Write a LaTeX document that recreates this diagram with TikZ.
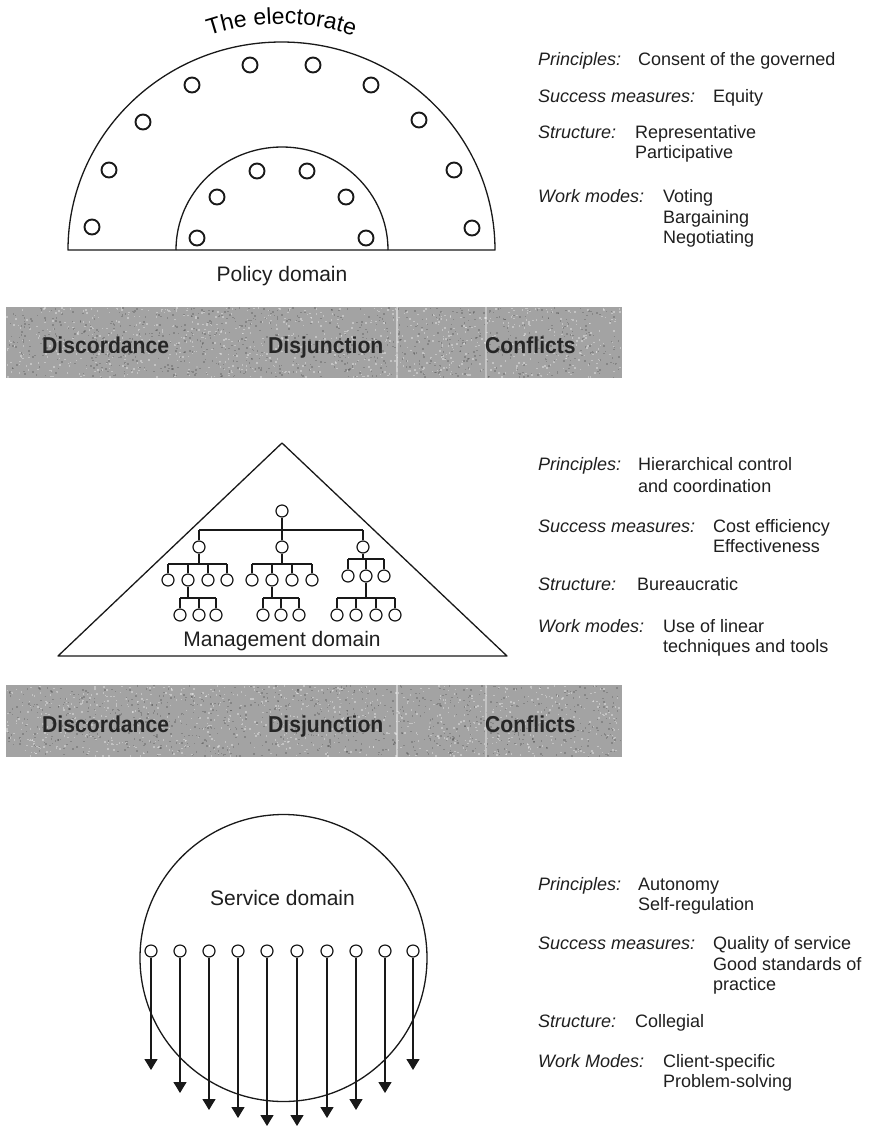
\documentclass[tikz,border=0pt]{standalone}
\usepackage{fontspec}
\setmainfont{Liberation Sans}
\usetikzlibrary{arrows.meta,decorations.text,calc}

\newcommand\elfont{\fontsize{23}{27}\selectfont}

\tikzset{
  outline/.style={draw=black!90, line width=1.3pt, line join=round},
  seat/.style={circle, draw=black!90, line width=1.9pt, minimum size=15pt, inner sep=0pt},
  post/.style={circle, draw=black!90, line width=1.2pt, minimum size=12pt, inner sep=0pt},
  link/.style={draw=black!90, line width=1.3pt},
  drop/.style={draw=black!90, line width=1.3pt, -{Triangle[width=13pt,length=11pt]}},
  domainlabel/.style={anchor=base, inner sep=0pt, text=black!88, font=\fontsize{21}{25}\selectfont},
  keylabel/.style={anchor=base west, inner sep=0pt, text=black!88, font=\fontsize{18}{21}\selectfont\itshape},
  vallabel/.style={anchor=base west, inner sep=0pt, text=black!88, font=\fontsize{18}{21}\selectfont},
  barlabel/.style={anchor=base west, inner sep=0pt, text=black!85, xscale=0.92,
                   font=\fontsize{23}{27}\selectfont\bfseries},
  barfill/.style={fill=black!36},
}

% a grey tension bar with speckled grain and faint seams
\newcommand\tensionbar[3]{%
  \fill[barfill] (6,#1) rectangle (622,#2);
  \foreach \k in {1,...,900} {
    \fill[white,opacity=.35] ({6+rnd*614},{#1+rnd*(#2-#1-1.5)}) rectangle ++(1.5,1.5);
    \fill[black,opacity=.18] ({6+rnd*614},{#1+rnd*(#2-#1-1.5)}) rectangle ++(1.5,1.5);
  }
  \draw[white,opacity=.45,line width=1.2pt] (397,#1) -- (397,#2);
  \draw[white,opacity=.35,line width=1.2pt] (486,#1) -- (486,#2);
  \node[barlabel] (#3dis) at (42,{#2-25}) {Discordance};
  \node[barlabel] (#3dj)  at (268,{#2-25}) {Disjunction};
  \node[barlabel] (#3con) at (485,{#2-25}) {Conflicts};
}

\begin{document}
\begin{tikzpicture}[x=1pt,y=-1pt]
\pgfmathsetseed{7}
\useasboundingbox (0,0) rectangle (871,1128);
\fill[white] (0,0) rectangle (871,1128);

% ---------------- policy domain ----------------
\draw[outline] (68,250) arc[start angle=180, end angle=0, x radius=213.5pt, y radius=208pt] -- cycle;
\draw[outline] (176,250) arc[start angle=180, end angle=0, x radius=106pt, y radius=103pt];
\coordinate (hub) at (281.5,250);
\path[decorate, decoration={text along path, text align=center,
      text={|\elfont|The electorate}}]
  ($(hub)+(131:226pt)$) arc[start angle=131, end angle=49, radius=226pt];

\foreach \x/\y [count=\i] in {92/227,109/170,143/122,192/85,250/65,313/65,371/85,419/120,454/170,472/228}
  \node[seat] (e\i) at (\x,\y) {};
\foreach \x/\y [count=\i] in {197/238,217/197,257/171,307/171,346/197,366/238}
  \node[seat] (g\i) at (\x,\y) {};

\node[domainlabel] (policy) at (282,281) {Policy domain};

\node[keylabel] (pk1) at (538,65) {Principles:};
\node[vallabel] (pv1) at (638,65) {Consent of the governed};
\node[keylabel] (pk2) at (538,102) {Success measures:};
\node[vallabel] (pv2) at (713,102) {Equity};
\node[keylabel] (pk3) at (538,138) {Structure:};
\node[vallabel] (pv3) at (635,138) {Representative};
\node[vallabel] (pv3b) at (635,158) {Participative};
\node[keylabel] (pk4) at (538,202) {Work modes:};
\node[vallabel] (pv4) at (663,202) {Voting};
\node[vallabel] (pv4b) at (663,223) {Bargaining};
\node[vallabel] (pv4c) at (663,243) {Negotiating};

% ---------------- bars ----------------
\tensionbar{307}{378}{upper}
\tensionbar{685}{757}{lower}

% ---------------- management domain ----------------
\draw[outline] (282,443) -- (507,656) -- (58,656) -- cycle;

\node[post] (r) at (282,511) {};
\coordinate (y0) at (0,530);
\node[post] (a) at (199,547) {};
\node[post] (b) at (282,547) {};
\node[post] (c) at (363,547) {};
\draw[link] (r.south) -- (r |- y0);
\draw[link] (a |- y0) -- (c |- y0);
\foreach \n in {a,b,c} \draw[link] (\n.north) -- (\n |- y0);

% group a
\coordinate (ya) at (0,564);
\foreach \x [count=\i] in {168,188,208,227} \node[post] (a\i) at (\x,580) {};
\draw[link] (a.south) -- (a |- ya);
\draw[link] (a1 |- ya) -- (a4 |- ya);
\foreach \i in {1,...,4} \draw[link] (a\i.north) -- (a\i |- ya);
\coordinate (yaa) at (0,598);
\foreach \x [count=\i] in {180,199,216} \node[post] (aa\i) at (\x,615) {};
\draw[link] (a2.south) -- (a2 |- yaa);
\draw[link] (aa1 |- yaa) -- (aa3 |- yaa);
\foreach \i in {1,...,3} \draw[link] (aa\i.north) -- (aa\i |- yaa);

% group b
\coordinate (yb) at (0,564);
\foreach \x [count=\i] in {252,272,292,312} \node[post] (b\i) at (\x,580) {};
\draw[link] (b.south) -- (b |- yb);
\draw[link] (b1 |- yb) -- (b4 |- yb);
\foreach \i in {1,...,4} \draw[link] (b\i.north) -- (b\i |- yb);
\coordinate (ybb) at (0,598);
\foreach \x [count=\i] in {263,281,299} \node[post] (bb\i) at (\x,615) {};
\draw[link] (b2.south) -- (b2 |- ybb);
\draw[link] (bb1 |- ybb) -- (bb3 |- ybb);
\foreach \i in {1,...,3} \draw[link] (bb\i.north) -- (bb\i |- ybb);

% group c
\coordinate (yc) at (0,559);
\foreach \x [count=\i] in {348,366,384} \node[post] (c\i) at (\x,576) {};
\draw[link] (c.south) -- (c |- yc);
\draw[link] (c1 |- yc) -- (c3 |- yc);
\foreach \i in {1,...,3} \draw[link] (c\i.north) -- (c\i |- yc);
\coordinate (ycc) at (0,598);
\foreach \x [count=\i] in {337,356,376,395} \node[post] (cc\i) at (\x,615) {};
\draw[link] (c2.south) -- (c2 |- ycc);
\draw[link] (cc1 |- ycc) -- (cc4 |- ycc);
\foreach \i in {1,...,4} \draw[link] (cc\i.north) -- (cc\i |- ycc);

\node[domainlabel] (mgmt) at (282,646) {Management domain};

\node[keylabel] (mk1) at (538,470) {Principles:};
\node[vallabel] (mv1) at (638,470) {Hierarchical control};
\node[vallabel] (mv1b) at (638,492) {and coordination};
\node[keylabel] (mk2) at (538,532) {Success measures:};
\node[vallabel] (mv2) at (713,532) {Cost efficiency};
\node[vallabel] (mv2b) at (713,552) {Effectiveness};
\node[keylabel] (mk3) at (538,590) {Structure:};
\node[vallabel] (mv3) at (637,590) {Bureaucratic};
\node[keylabel] (mk4) at (538,632) {Work modes:};
\node[vallabel] (mv4) at (663,632) {Use of linear};
\node[vallabel] (mv4b) at (663,652) {techniques and tools};

% ---------------- service domain ----------------
\draw[outline] (283.5,958) circle[radius=143.5pt];
\node[domainlabel] (service) at (282.5,905) {Service domain};
\foreach \x/\t [count=\i] in {151/1070,180/1093,209/1110,238/1118,267/1126,297/1126,327/1118,356/1110,385/1093,413/1070} {
  \node[post] (s\i) at (\x,951) {};
  \coordinate (tip\i) at (\x,\t);
  \draw[drop] (s\i.south) -- (tip\i);
}

\node[keylabel] (sk1) at (538,890) {Principles:};
\node[vallabel] (sv1) at (638,890) {Autonomy};
\node[vallabel] (sv1b) at (638,910) {Self-regulation};
\node[keylabel] (sk2) at (538,949) {Success measures:};
\node[vallabel] (sv2) at (713,949) {Quality of service};
\node[vallabel] (sv2b) at (713,970) {Good standards of};
\node[vallabel] (sv2c) at (713,990) {practice};
\node[keylabel] (sk3) at (538,1027) {Structure:};
\node[vallabel] (sv3) at (635,1027) {Collegial};
\node[keylabel] (sk4) at (538,1067) {Work Modes:};
\node[vallabel] (sv4) at (663,1067) {Client-specific};
\node[vallabel] (sv4b) at (663,1087) {Problem-solving};
\end{tikzpicture}
\end{document}
